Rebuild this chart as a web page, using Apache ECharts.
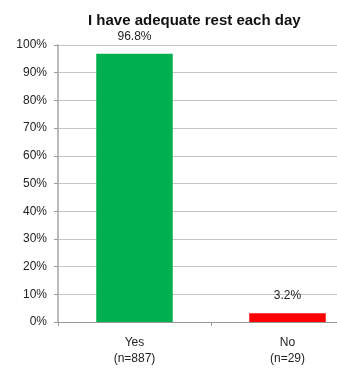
<!DOCTYPE html>
<html>
<head>
<meta charset="utf-8">
<script src="https://cdn.jsdelivr.net/npm/echarts@6/dist/echarts.min.js"></script>
<style>
  html, body { margin: 0; padding: 0; background: #fff; overflow: hidden; }
  #wrap { width: 337px; height: 370px; overflow: hidden; }
  /* the plot area continues past the right edge of the visible frame */
  #chart { width: 364px; height: 370px; }
</style>
</head>
<body>
<div id="wrap"><div id="chart"></div></div>
<script>
// Share of respondents reporting adequate daily rest
const categories = ['Yes\n(n=887)', 'No\n(n=29)'];
const values = [96.8, 3.2];
const barColors = ['#00B050', '#FF0000'];
const yTicks = [0, 10, 20, 30, 40, 50, 60, 70, 80, 90, 100];

const chart = echarts.init(document.getElementById('chart'));
const font = 'Liberation Sans, Arial, sans-serif';

chart.setOption({
  animation: false,
  title: {
    text: 'I have adequate rest each day',
    left: 83,
    top: 8,
    textStyle: { fontFamily: font, fontSize: 15, fontWeight: 'bold', color: '#111' }
  },
  grid: { left: 58, right: 0, top: 45, bottom: 48, containLabel: false },
  xAxis: {
    type: 'category',
    data: categories,
    axisLine: { lineStyle: { color: '#999', width: 1 } },
    axisTick: { show: true, length: 4, lineStyle: { color: '#999' } },
    axisLabel: {
      margin: 13,
      fontFamily: font,
      fontSize: 12,
      color: '#222',
      lineHeight: 16
    }
  },
  yAxis: {
    type: 'value',
    min: 0,
    max: 100,
    interval: 10,
    axisLine: { show: true, lineStyle: { color: '#bbb', width: 2 } },
    axisTick: { show: true, length: 4, lineStyle: { color: '#999' } },
    splitLine: { lineStyle: { color: '#c4c4c4', width: 1 } },
    axisLabel: {
      margin: 11,
      fontFamily: font,
      fontSize: 12,
      color: '#222',
      formatter: v => yTicks.includes(v) ? v + '%' : ''
    }
  },
  series: [{
    type: 'bar',
    barWidth: '50%',
    data: values.map((v, i) => ({ value: v, itemStyle: { color: barColors[i] } })),
    label: {
      show: true,
      position: 'top',
      distance: 11,
      fontFamily: font,
      fontSize: 12,
      color: '#222',
      formatter: p => p.value.toFixed(1) + '%'
    }
  }]
});
</script>
</body>
</html>
